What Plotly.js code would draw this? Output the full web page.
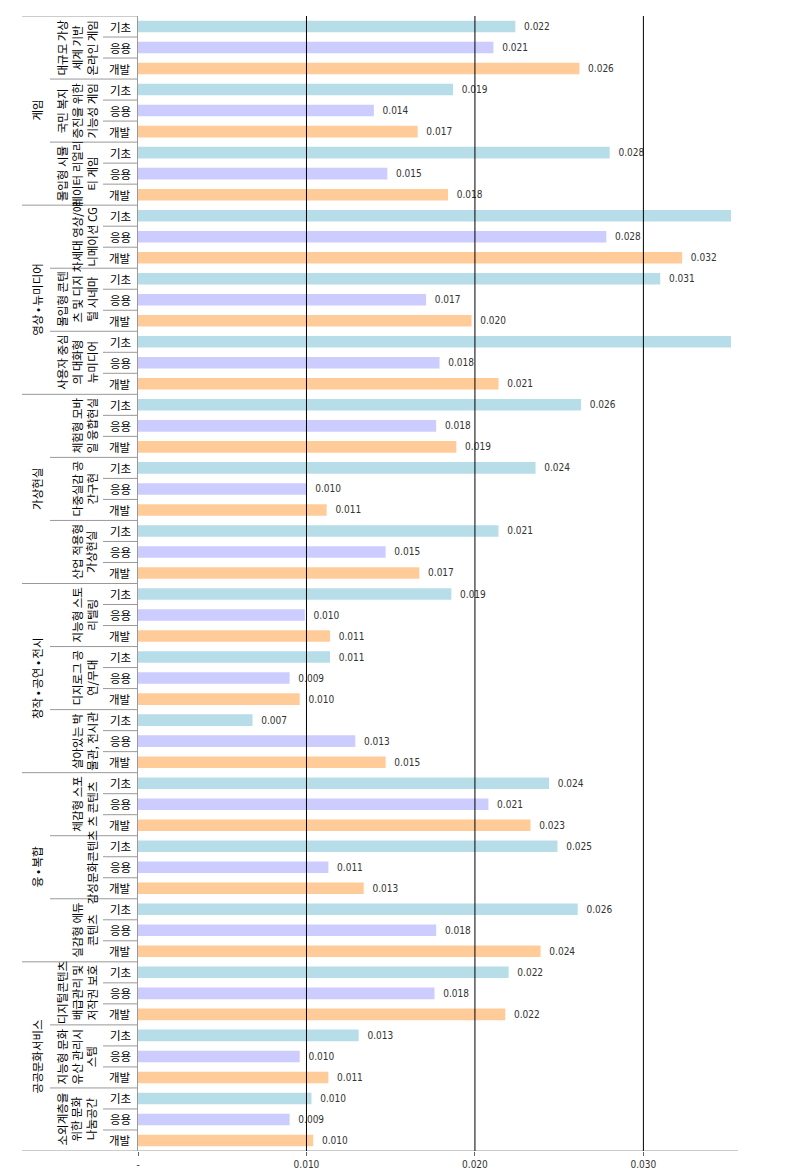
<!DOCTYPE html>
<html><head><meta charset="utf-8">
<script src="https://cdn.plot.ly/plotly-3.0.1.min.js"></script>
<style>html,body{margin:0;padding:0;background:#fff}</style>
</head><body><div id="chart" style="width:785px;height:1175px"></div>
<script>
const groups = ['게임', '영상 • 뉴미디어', '가상현실', '창작 • 공연 • 전시', '융 • 복합', '공공문화서비스'];
const subgroupGroup = [0,0,0, 1,1,1, 2,2,2, 3,3,3, 4,4,4, 5,5,5];
const subgroupLines = [
  ['대규모 가상','세계 기반','온라인 게임'],
  ['국민 복지','증진을 위한','기능성 게임'],
  ['몰입형 시뮬','레이터 리얼리','티 게임'],
  ['차세대 영상/애','니메이션 CG'],
  ['몰입형 콘텐','츠 및 디지','털 시네마'],
  ['사용자 중심','의 대화형','뉴미디어'],
  ['체험형 모바','일 융합현실'],
  ['다중실감 공','간구현'],
  ['산업 적용형','가상현실'],
  ['지능형 스토','리텔링'],
  ['디지로그 공','연/무대'],
  ['살아있는 박','물관, 전시관'],
  ['체감형 스포','츠 콘텐츠'],
  ['감성문화콘텐츠'],
  ['실감형 에듀','콘텐츠'],
  ['디지털콘텐츠','배급관리 및','저작권 보호'],
  ['지능형 문화','유산 관리시','스템'],
  ['소외계층을','위한 문화','나눔공간']
];
const stages = ['기초', '응용', '개발'];
const basicValues   = [0.0224,0.0187,0.0280, 0.0380,0.0310,0.0380, 0.0263,0.0236,0.0214, 0.0186,0.0114,0.0068, 0.0244,0.0249,0.0261, 0.0220,0.0131,0.0103];
const appliedValues = [0.0211,0.0140,0.0148, 0.0278,0.0171,0.0179, 0.0177,0.0100,0.0147, 0.0099,0.0090,0.0129, 0.0208,0.0113,0.0177, 0.0176,0.0096,0.0090];
const devValues     = [0.0262,0.0166,0.0184, 0.0323,0.0198,0.0214, 0.0189,0.0112,0.0167, 0.0114,0.0096,0.0147, 0.0233,0.0134,0.0239, 0.0218,0.0113,0.0104];
const tickVals = [0, 0.01, 0.02, 0.03];
const tickText = ['-', '0.010', '0.020', '0.030'];

const X_MAX = 0.0352;
const L = 138, R_EDGE = 731, W = R_EDGE - L;
const px = x => (x - L) / W;
const nSub = subgroupLines.length;
const nRows = nSub * 3;

const seriesValues = [basicValues, appliedValues, devValues];
const colors = ['#b7dee8', '#ccccff', '#ffcc99'];
const lblFont = {family: 'Liberation Sans Narrow, DejaVu Sans Condensed, Liberation Sans, sans-serif', size: 10, color: '#333'};
const krFont = {family: 'Noto Sans CJK KR, sans-serif', size: 11.5, color: '#000'};

const traces = seriesValues.map((vals, k) => ({
  type: 'bar', orientation: 'h', name: stages[k],
  x: vals,
  y: vals.map((v, s) => s * 3 + k),
  marker: {color: colors[k]},
  text: vals.map(v => v < X_MAX ? '\u00a0\u00a0' + v.toFixed(3) : ''),
  textposition: 'outside',
  textfont: lblFont,
  constraintext: 'none',
  cliponaxis: true,
  hoverinfo: 'x'
}));

const shapes = [];
const lineCol = '#999';
for (let b = 0; b <= nRows; b++) {
  let x0;
  if (b === 0 || b === nRows) x0 = px(22);
  else if (b % 3 !== 0) x0 = px(103);
  else {
    const s = b / 3;
    x0 = subgroupGroup[s] !== subgroupGroup[s - 1] ? px(22) : px(50);
  }
  const x1 = b === nRows ? px(738) : 0;
  shapes.push({type: 'line', xref: 'paper', yref: 'y', x0: x0, x1: x1, y0: b - 0.5, y1: b - 0.5,
    line: {color: lineCol, width: 1}});
}
tickVals.filter(v => v > 0).forEach(v => {
  shapes.push({type: 'line', xref: 'x', yref: 'paper', x0: v, x1: v, y0: 0, y1: 1,
    layer: 'above', line: {color: '#000', width: 1}});
});

const annotations = [];
for (let s = 0; s < nSub; s++) {
  for (let k = 0; k < 3; k++) {
    annotations.push({xref: 'paper', yref: 'y', x: px(120), y: s * 3 + k, text: stages[k],
      showarrow: false, xanchor: 'center', yanchor: 'middle', font: krFont});
  }
  annotations.push({xref: 'paper', yref: 'y', x: px(102), y: s * 3 + 1, text: subgroupLines[s].join('<br>'),
    showarrow: false, textangle: -90, xanchor: 'right', yanchor: 'middle', font: krFont});
}
groups.forEach((g, gi) => {
  const idx = subgroupGroup.map((v, i) => v === gi ? i : -1).filter(i => i >= 0);
  const center = (idx[0] * 3 + idx[idx.length - 1] * 3 + 2) / 2;
  annotations.push({xref: 'paper', yref: 'y', x: px(37), y: center, text: g,
    showarrow: false, textangle: -90, xanchor: 'center', yanchor: 'middle', font: krFont});
});

const layout = {
  width: 785, height: 1175,
  margin: {l: L, r: 785 - R_EDGE, t: 16, b: 24},
  paper_bgcolor: '#fff', plot_bgcolor: '#fff',
  showlegend: false,
  bargap: 0.45,
  xaxis: {range: [0, X_MAX], tickvals: tickVals, ticktext: tickText,
    showgrid: false, zeroline: false, showline: false,
    ticks: 'outside', ticklen: 4, tickcolor: '#666',
    tickfont: {family: lblFont.family, size: 10, color: '#333'}, fixedrange: true},
  yaxis: {range: [nRows - 0.5, -0.5], showticklabels: false, showgrid: false, zeroline: false,
    showline: true, linecolor: lineCol, linewidth: 1, ticks: '', fixedrange: true},
  shapes: shapes,
  annotations: annotations
};
Plotly.newPlot('chart', traces, layout, {displayModeBar: false, staticPlot: true});
</script>
</body></html>
